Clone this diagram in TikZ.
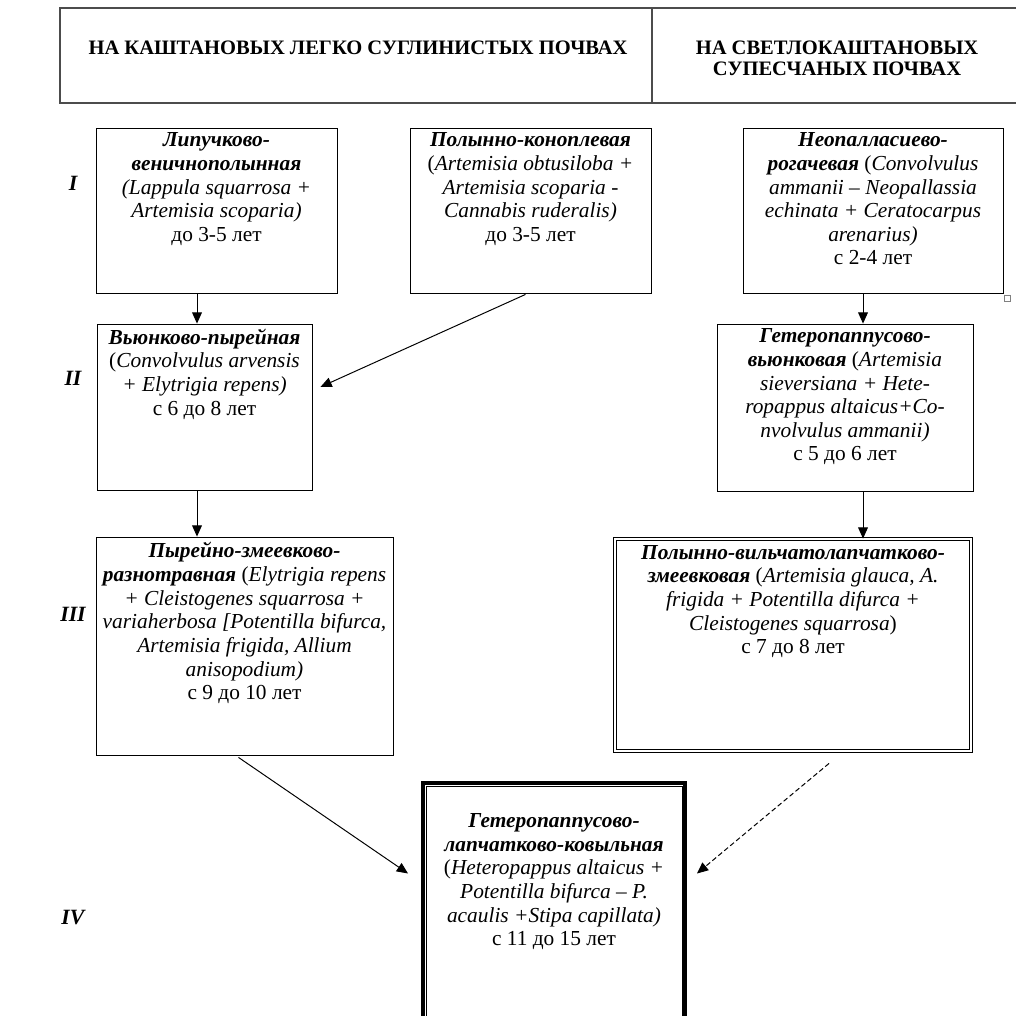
\documentclass[tikz,border=0pt]{standalone}
\usepackage{fontspec}
\setmainfont{Liberation Serif}
\usetikzlibrary{arrows.meta,positioning,fit}
\tikzset{
  stagebox/.style={draw, line width=0.6pt, inner sep=0pt},
  headbox/.style={draw=black!70, line width=0.8pt, inner sep=0pt},
  stagetext/.style={align=center, inner sep=0pt, font=\fontsize{15.2}{16.8}\selectfont},
  headtext/.style={align=center, inner sep=0pt, font=\fontsize{14.6}{15}\selectfont\bfseries},
  stagenum/.style={font=\fontsize{15.5}{16}\selectfont\bfseries\itshape},
  arr/.style={-{Triangle[length=8pt,width=7pt]}, line width=0.7pt},
  dasharr/.style={arr, dash pattern=on 3.5pt off 2pt}
}
\newcommand{\nm}[1]{\textbf{\textit{#1}}}
\begin{document}
\begin{tikzpicture}[x=0.025cm,y=-0.025cm]
  \useasboundingbox (0,0) rectangle (1016,1016);
  \clip (0,0) rectangle (1016,1016);
  \fill[white] (0,0) rectangle (1016,1016);

  % header
  \node[headbox, fit={(60,8) (652,103)}] (hdrL) {};
  \node[headbox, fit={(652,8) (1040,103)}] (hdrR) {};
  \node[headtext] (hdrLt) at (358,48) {НА КАШТАНОВЫХ ЛЕГКО СУГЛИНИСТЫХ ПОЧВАХ};
  \node[headtext] (hdrRt) at (837,58) {НА СВЕТЛОКАШТАНОВЫХ\\СУПЕСЧАНЫХ ПОЧВАХ};

  % stage numbers
  \node[stagenum] (n1) at (73,183) {I};
  \node[stagenum] (n2) at (73,378) {II};
  \node[stagenum] (n3) at (73,614) {III};
  \node[stagenum] (n4) at (73,918) {IV};

  % boxes
  \node[stagebox, fit={(96,128) (337,293)}] (lip) {};
  \node[stagebox, fit={(410,128) (651,293)}] (polcon) {};
  \node[stagebox, fit={(743,128) (1003,293)}] (neo) {};
  \node[draw=black!50, line width=0.4pt, inner sep=0pt, minimum size=4pt, anchor=north west] (neohandle) at ([shift={(1,2)}]neo.south east) {};
  \node[stagebox, fit={(97,324) (312,490)}] (vyun) {};
  \node[stagebox, fit={(717,324) (973,491)}] (getvyun) {};
  \node[stagebox, fit={(96,537) (393,755)}] (pyr) {};
  \node[stagebox, double, double distance=1.2pt, fit={(615,539) (971,751)}] (polvil) {};
  \node[stagebox, line width=2.8pt, fit={(423,783) (685,1040)}] (kov) {};
  \draw[line width=0.6pt] ([shift={(5,5)}]kov.north west) rectangle ([shift={(-5,-5)}]kov.south east);

  % box texts
  \node[stagetext, below=3.5pt of lip.north] (lipt) {\nm{Липучково-}\\\nm{веничнополынная}\\\textit{(Lappula squarrosa +}\\\textit{Artemisia scoparia)}\\до 3-5 лет};
  \node[stagetext, below=3.5pt of polcon.north] (polcont) {\nm{Полынно-коноплевая}\\(\textit{Artemisia obtusiloba +}\\\textit{Artemisia scoparia -}\\\textit{Cannabis ruderalis)}\\до 3-5 лет};
  \node[stagetext, below=3.5pt of neo.north] (neot) {\nm{Неопалласиево-}\\\nm{рогачевая} (\textit{Convolvulus}\\\textit{ammanii – Neopallassia}\\\textit{echinata + Ceratocarpus}\\\textit{arenarius)}\\с 2-4 лет};
  \node[stagetext, below=3.5pt of vyun.north] (vyunt) {\nm{Вьюнково-пырейная}\\(\textit{Convolvulus arvensis}\\\textit{+ Elytrigia repens)}\\с 6 до 8 лет};
  \node[stagetext, below=3.5pt of getvyun.north] (getvyunt) {\nm{Гетеропаппусово-}\\\nm{вьюнковая} (\textit{Artemisia}\\\textit{sieversiana + Hete-}\\\textit{ropappus altaicus+Co-}\\\textit{nvolvulus ammanii)}\\с 5 до 6 лет};
  \node[stagetext, below=4pt of pyr.north] (pyrt) {\nm{Пырейно-змеевково-}\\\nm{разнотравная} (\textit{Elytrigia repens}\\\textit{+ Cleistogenes squarrosa +}\\\textit{variaherbosa [Potentilla bifurca,}\\\textit{Artemisia frigida, Allium}\\\textit{anisopodium)}\\с 9 до 10 лет};
  \node[stagetext, below=4.5pt of polvil.north] (polvilt) {\nm{Полынно-вильчатолапчатково-}\\\nm{змеевковая} (\textit{Artemisia glauca, A.}\\\textit{frigida + Potentilla difurca +}\\\textit{Cleistogenes squarrosa})\\с 7 до 8 лет};
  \node[stagetext, below=23pt of kov.north] (kovt) {\nm{Гетеропаппусово-}\\\nm{лапчатково-ковыльная}\\(\textit{Heteropappus altaicus +}\\\textit{Potentilla bifurca – P.}\\\textit{acaulis +Stipa capillata)}\\с 11 до 15 лет};

  % connectors
  \coordinate (colL) at (197,0);
  \coordinate (colR) at (863,0);
  \draw[arr] (lip.south -| colL) -- (vyun.north -| colL);
  \draw[arr] ([shift={(-5,1)}]polcon.south) -- ([shift={(8,-20)}]vyun.east);
  \draw[arr] (neo.south -| colR) -- (getvyun.north -| colR);
  \draw[arr] (vyun.south -| colL) -- (pyr.north -| colL);
  \draw[arr] (getvyun.south -| colR) -- (polvil.north -| colR);
  \draw[arr] ([shift={(-6,2)}]pyr.south) -- ([shift={(-13,-38)}]kov.west);
  \draw[dasharr] ([shift={(36,12)}]polvil.south) -- ([shift={(10,-38)}]kov.east);
\end{tikzpicture}
\end{document}
